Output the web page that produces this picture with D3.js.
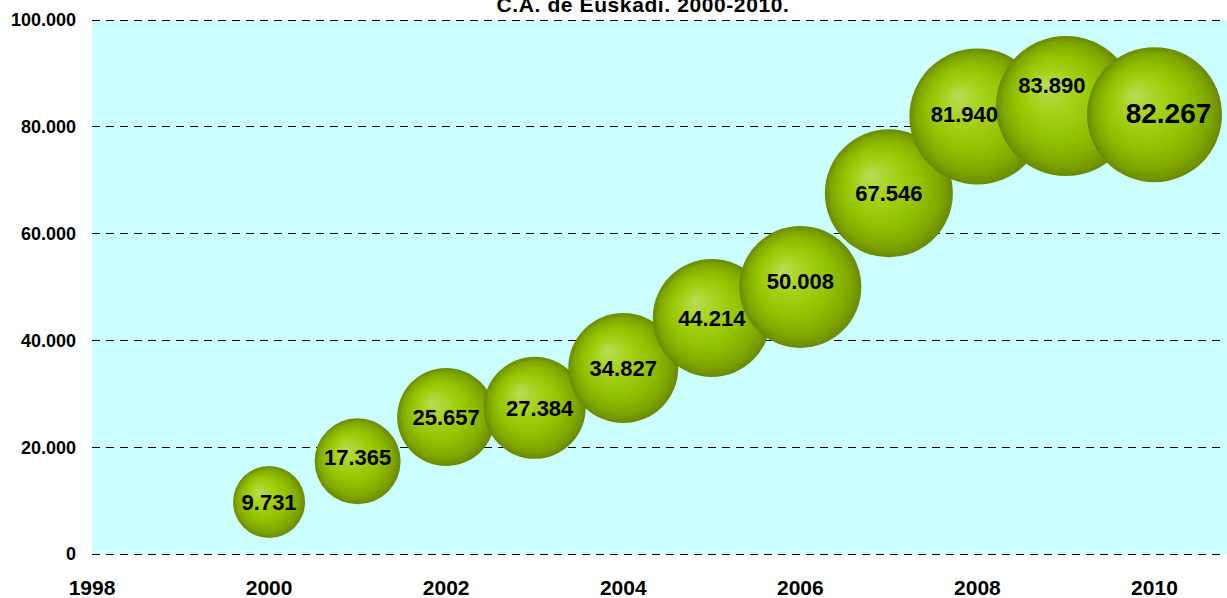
<!DOCTYPE html>
<html><head><meta charset="utf-8">
<script src="https://cdn.jsdelivr.net/npm/d3@7"></script>
<style>html,body{margin:0;padding:0;background:#fff;overflow:hidden}svg{display:block}</style>
</head><body>
<svg id="chart" width="1227" height="598"></svg>
<script>
const years = [2000, 2001, 2002, 2003, 2004, 2005, 2006, 2007, 2008, 2009, 2010];
const values = [9731, 17365, 25657, 27384, 34827, 44214, 50008, 67546, 81940, 83890, 82267];
const bubbleSizes = [26.4, 37.7, 49.0, 53.1, 61.7, 71.0, 75.9, 83.6, 94.4, 100, 93.0];
const xTicks = [1998, 2000, 2002, 2004, 2006, 2008, 2010];
const yTicks = [0, 20000, 40000, 60000, 80000, 100000];
const titleText = "C.A. de Euskadi. 2000-2010.";

const loc = d3.formatLocale({decimal: ",", thousands: ".", grouping: [3], currency: ["", " €"]});
const fmt = loc.format(",d");

const svg = d3.select("#chart");
const L = 92, T = 20, B = 554, R = 1227;
const x = d3.scaleLinear().domain([1998, 2012]).range([L, L + 14 * 88.54]);
const y = d3.scaleLinear().domain([0, 100000]).range([B, T]);
const r = d3.scaleSqrt().domain([0, 100]).range([0, 70]);

const defs = svg.append("defs");
const g = defs.append("radialGradient").attr("id", "bub")
  .attr("cx", 0.5).attr("cy", 0.5).attr("r", 0.5).attr("fx", 0.35).attr("fy", 0.35);
[[0, "#b9dc55"], [0.3, "#a6d21a"], [0.6, "#93c300"], [0.85, "#80a800"], [1, "#6a8a00"]]
  .forEach(([o, c]) => g.append("stop").attr("offset", o).attr("stop-color", c));

svg.append("rect").attr("x", L).attr("y", T).attr("width", R - L).attr("height", B - T).attr("fill", "#ccffff");

// gridlines
svg.append("g").selectAll("line").data(yTicks).join("line")
  .attr("x1", L).attr("x2", 1222)
  .attr("y1", d => y(d)).attr("y2", d => y(d))
  .attr("stroke", "#000").attr("stroke-width", 1).attr("stroke-dasharray", "8,6")
  .attr("shape-rendering", "crispEdges");

// y axis labels
svg.append("g").selectAll("text").data(yTicks).join("text")
  .attr("x", 76).attr("y", d => y(d)).attr("dy", "0.36em")
  .attr("text-anchor", "end")
  .attr("font-family", "Liberation Sans, Arial, sans-serif").attr("font-weight", "bold").attr("font-size", 18)
  .text(d => fmt(d));

// x axis labels
svg.append("g").selectAll("text").data(xTicks).join("text")
  .attr("x", d => x(d)).attr("y", 595)
  .attr("text-anchor", "middle")
  .attr("font-family", "Liberation Sans, Arial, sans-serif").attr("font-weight", "bold").attr("font-size", 21)
  .text(d => d);

const data = years.map((yr, i) => ({yr, v: values[i], s: bubbleSizes[i]}));

svg.append("g").selectAll("circle").data(data).join("circle")
  .attr("cx", d => x(d.yr)).attr("cy", d => y(d.v)).attr("r", d => r(d.s))
  .attr("fill", "url(#bub)");

// label offsets (px) to follow reference placement
const off = {2001: [0, -4], 2003: [5, 0], 2006: [0, -6], 2008: [-13, -2], 2009: [-14, -21], 2010: [14, -2]};
svg.append("g").selectAll("text").data(data).join("text")
  .attr("x", d => x(d.yr) + (off[d.yr] ? off[d.yr][0] : 0))
  .attr("y", d => y(d.v) + (off[d.yr] ? off[d.yr][1] : 0))
  .attr("dy", "0.36em").attr("text-anchor", "middle")
  .attr("font-family", "Liberation Sans, Arial, sans-serif").attr("font-weight", "bold")
  .attr("font-size", d => d.yr === 2010 ? 28 : 22)
  .text(d => fmt(d.v));

svg.append("text").attr("x", 643).attr("y", 12).attr("text-anchor", "middle")
  .attr("font-family", "Liberation Sans, Arial, sans-serif").attr("font-weight", "bold").attr("font-size", 21)
  .attr("letter-spacing", 0.6)
  .text(titleText);
</script>
</body></html>
